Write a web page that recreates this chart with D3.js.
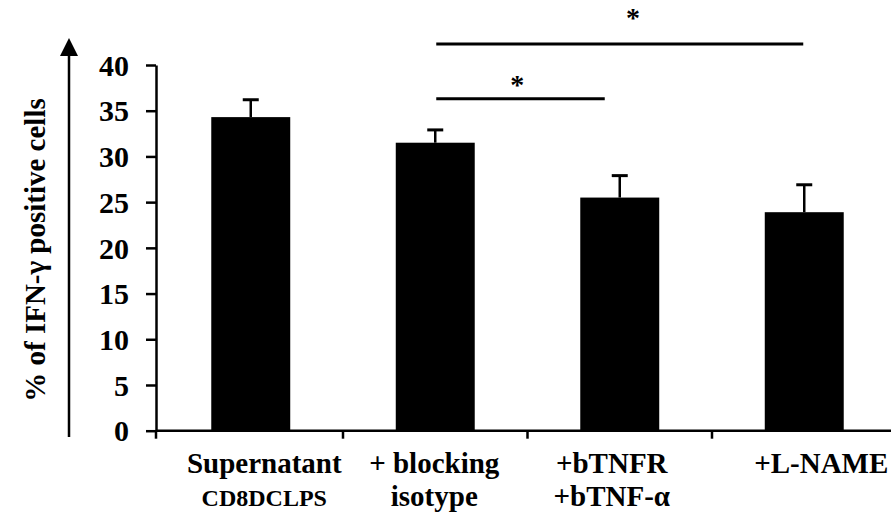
<!DOCTYPE html>
<html>
<head>
<meta charset="utf-8">
<script src="https://cdn.jsdelivr.net/npm/d3@7"></script>
<style>
  body { margin: 0; background: #fff; }
  svg { font-family: "Liberation Serif", "Times New Roman", serif; font-weight: bold; }
</style>
</head>
<body>
<div id="chart"></div>
<script>
// data
var groups = ["sup", "iso", "tnf", "lname"];
var labelLine1 = ["Supernatant", "+ blocking", "+bTNFR", "+L-NAME"];
var labelLine2 = ["CD8DCLPS", "isotype", "+bTNF-\u03b1", ""];
var means = [34.3, 31.5, 25.5, 23.9];
var errors = [1.9, 1.4, 2.4, 3.0];
var yTicks = [0, 5, 10, 15, 20, 25, 30, 35, 40];
// significance bars: from group, to group, line height and star height (in % units)
var sigFrom = ["iso", "iso"];
var sigTo = ["tnf", "lname"];
var sigLevel = [36.3, 42.3];
var starLevel = [36.8, 44.2];
var starPos = [0.48, 0.536];

// label nudges (px) relative to the bar centres, as in the original figure
var labelShift = [13.5, -1, -8, 17];

var width = 891, height = 513;

var svg = d3.select("#chart").append("svg")
    .attr("width", width)
    .attr("height", height);

// scales
var x = d3.scaleBand()
    .domain(groups)
    .range([158.5, 896.5])
    .paddingInner(0.572)
    .paddingOuter(0.286);

var y = d3.scaleLinear()
    .domain([0, 40])
    .range([430.7, 65]);

var axisX = 156;

function cx(g) { return x(g) + x.bandwidth() / 2; }

// bars
svg.selectAll(".bar")
    .data(groups)
    .enter().append("rect")
    .attr("class", "bar")
    .attr("x", function(d) { return x(d); })
    .attr("y", function(d, i) { return y(means[i]); })
    .attr("width", x.bandwidth())
    .attr("height", function(d, i) { return y(0) - y(means[i]); })
    .attr("fill", "#000");

// error bars (upper only)
var eb = svg.selectAll(".err")
    .data(groups)
    .enter().append("g")
    .attr("class", "err");

eb.append("line")
    .attr("x1", function(d) { return cx(d); })
    .attr("x2", function(d) { return cx(d); })
    .attr("y1", function(d, i) { return y(means[i]); })
    .attr("y2", function(d, i) { return y(means[i] + errors[i]); })
    .attr("stroke", "#000")
    .attr("stroke-width", 2.5);

eb.append("line")
    .attr("x1", function(d) { return cx(d) - 8; })
    .attr("x2", function(d) { return cx(d) + 8; })
    .attr("y1", function(d, i) { return y(means[i] + errors[i]); })
    .attr("y2", function(d, i) { return y(means[i] + errors[i]); })
    .attr("stroke", "#000")
    .attr("stroke-width", 3);

// y axis
var yAxis = d3.axisLeft(y)
    .tickValues(yTicks)
    .tickSize(10)
    .tickSizeOuter(0)
    .tickPadding(17)
    .tickFormat(d3.format("d"));

var gy = svg.append("g")
    .attr("transform", "translate(" + axisX + ",0)")
    .call(yAxis);
gy.select(".domain").attr("stroke-width", 2.5);
gy.selectAll(".tick line").attr("stroke-width", 2.5);
gy.selectAll(".tick text")
    .attr("font-family", "Liberation Serif")
    .attr("font-weight", "bold")
    .attr("font-size", 30)
    .attr("dy", "0.34em")
    .attr("fill", "#000");

// x axis: ticks between categories
var bounds = [];
for (var i = 0; i <= groups.length; i++) {
    bounds.push(x.range()[0] + i * x.step());
}
svg.append("line")
    .attr("x1", axisX)
    .attr("x2", x.range()[1])
    .attr("y1", y(0))
    .attr("y2", y(0))
    .attr("stroke", "#000")
    .attr("stroke-width", 2.5);

svg.selectAll(".xtick")
    .data(bounds)
    .enter().append("line")
    .attr("class", "xtick")
    .attr("x1", function(d, i) { return i === 0 ? axisX : d; })
    .attr("x2", function(d, i) { return i === 0 ? axisX : d; })
    .attr("y1", y(0))
    .attr("y2", y(0) + 8)
    .attr("stroke", "#000")
    .attr("stroke-width", 2.5);

// x labels
var xl = svg.selectAll(".xlab")
    .data(groups)
    .enter().append("text")
    .attr("class", "xlab")
    .attr("text-anchor", "middle")
    .attr("font-size", 29)
    .attr("fill", "#000");
xl.append("tspan")
    .attr("x", function(d, i) { return cx(d) + labelShift[i]; })
    .attr("y", 473)
    .text(function(d, i) { return labelLine1[i]; });
xl.append("tspan")
    .attr("x", function(d, i) { return cx(d) + labelShift[i]; })
    .attr("y", 506)
    .attr("font-size", function(d, i) { return i === 0 ? 24 : 29; })
    .text(function(d, i) { return labelLine2[i]; });

// y title and the arrow beside it
svg.append("text")
    .attr("transform", "translate(45,250) rotate(-90)")
    .attr("text-anchor", "middle")
    .attr("font-size", 29)
    .attr("fill", "#000")
    .text("% of IFN-\u03b3 positive cells");

svg.append("line")
    .attr("x1", 69).attr("x2", 69)
    .attr("y1", 437).attr("y2", 54)
    .attr("stroke", "#000")
    .attr("stroke-width", 2.5);
svg.append("path")
    .attr("d", "M60,56 L69,38 L78,56 Z")
    .attr("fill", "#000");

// significance lines
var sig = svg.selectAll(".sig")
    .data(sigFrom)
    .enter().append("g")
    .attr("class", "sig");

function sigX1(d) { return cx(d) + 1; }
function sigX2(i) { return i === 0 ? cx(sigTo[i]) - 15 : cx(sigTo[i]) - 1; }

sig.append("line")
    .attr("x1", function(d) { return sigX1(d); })
    .attr("x2", function(d, i) { return sigX2(i); })
    .attr("y1", function(d, i) { return y(sigLevel[i]); })
    .attr("y2", function(d, i) { return y(sigLevel[i]); })
    .attr("stroke", "#000")
    .attr("stroke-width", 3);

sig.append("text")
    .attr("text-anchor", "middle")
    .attr("x", function(d, i) {
        return sigX1(d) + (sigX2(i) - sigX1(d)) * starPos[i];
    })
    .attr("y", function(d, i) { return y(starLevel[i]); })
    .attr("font-size", 28)
    .attr("fill", "#000")
    .text("*");
</script>
</body>
</html>
